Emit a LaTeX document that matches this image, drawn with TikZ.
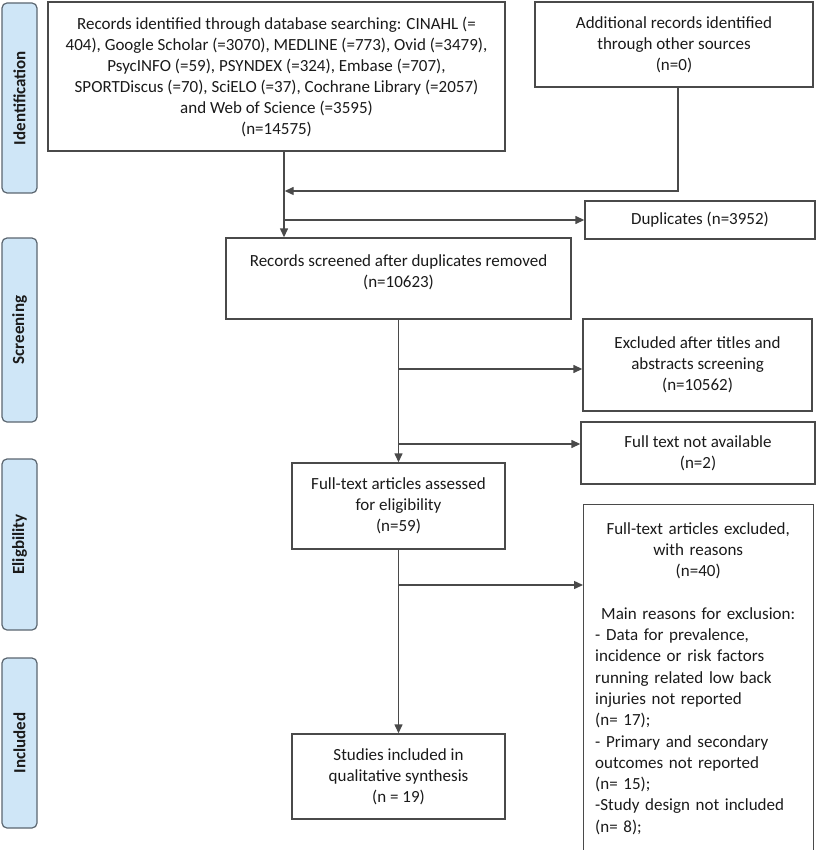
\documentclass[tikz,border=0pt]{standalone}
\usepackage{fontspec}
\setmainfont{Carlito}
\usetikzlibrary{arrows.meta}
\definecolor{lncol}{HTML}{4A4A4A}
\definecolor{lblfill}{HTML}{CFE6F7}
\definecolor{lbldraw}{HTML}{5B6670}
\definecolor{txt}{HTML}{1A1A1A}
\begin{document}
\begin{tikzpicture}[x=1pt,y=-1pt,
  box/.style={draw=lncol, line width=1.4pt, inner sep=0pt, align=center, text=txt, font=\fontsize{17}{21}\selectfont},
  lbl/.style={draw=lbldraw, fill=lblfill, rounded corners=5pt, line width=1.2pt, rotate=90, minimum height=35, inner sep=0pt, font=\bfseries\fontsize{17}{21}\selectfont, text=txt},
  arr/.style={draw=lncol, line width=1.4pt, -{Triangle[length=9pt,width=8pt]}}]
\useasboundingbox (0,0) rectangle (816,850);
% phase labels
\node[lbl, minimum width=190] (Lid) at (19.5,98) {Identification};
\node[lbl, minimum width=184] (Lsc) at (19.5,330) {Screening};
\node[lbl, minimum width=171] (Lel) at (19.5,544.5) {Eligbility};
\node[lbl, minimum width=170] (Lin) at (19.5,743) {Included};
% boxes
\node[box, minimum width=457, minimum height=149] (rec) at (276.5,76.5) {Records identified through database searching: CINAHL (=\\404), Google Scholar (=3070), MEDLINE (=773), Ovid (=3479),\\PsycINFO (=59), PSYNDEX (=324), Embase (=707),\\SPORTDiscus (=70), SciELO (=37), Cochrane Library (=2057)\\and Web of Science (=3595)\\(n=14575)};
\node[box, minimum width=278, minimum height=85] (add) at (674,44.5) {Additional records identified\\through other sources\\(n=0)};
\node[box, minimum width=230, minimum height=38] (dup) at (700,220) {Duplicates (n=3952)};
\node[box, minimum width=345, minimum height=81, text depth=14pt] (scr) at (398.5,278.5) {Records screened after duplicates removed\\(n=10623)};
\node[box, minimum width=229, minimum height=92] (ex) at (697.5,365) {Excluded after titles and\\abstracts screening\\(n=10562)};
\node[box, minimum width=234, minimum height=62] (na) at (698,453) {Full text not available\\(n=2)};
\node[box, minimum width=213, minimum height=86] (ft) at (398.5,506) {Full-text articles assessed\\for eligibility\\(n=59)};
\node[box, minimum width=213, minimum height=85] (st) at (398.5,776.5) {Studies included in\\qualitative synthesis\\(n = 19)};
\node[box, anchor=north west, minimum width=230, minimum height=360] (rsn) at (583,504) {};
\node[anchor=north west, text width=206pt, inner sep=0pt, text=txt, font=\fontsize{17}{21.3}\selectfont] (rsntxt) at (595,522) {\centering Full-text articles excluded,\\with reasons\\(n=40)\\[21.3pt]Main reasons for exclusion:\par
\raggedright - Data for prevalence,\\incidence or risk factors\\running related low back\\injuries not reported\\(n= 17);\\- Primary and secondary\\outcomes not reported\\(n= 15);\\-Study design not included\\(n= 8);\par};
% connectors
\coordinate (mx) at (284,0);
\draw[arr] (rec.south -| mx) -- (scr.north -| mx);
\coordinate (ac) at (678,191);
\draw[arr, shorten >=0.7pt] (add.south -| ac) -- (ac) -- (ac -| mx);
\coordinate (dc) at (284,220);
\draw[arr] (dc) -- (dc -| dup.west);
\draw[arr] (scr.south) -- (ft.north);
\coordinate (b1) at (398.5,369);
\draw[arr] (b1) -- (b1 -| ex.west);
\coordinate (b2) at (398.5,444);
\draw[arr] (b2) -- (b2 -| na.west);
\draw[arr] (ft.south) -- (st.north);
\coordinate (b3) at (398.5,585);
\draw[arr] (b3) -- (b3 -| rsn.west);
\end{tikzpicture}
\end{document}
